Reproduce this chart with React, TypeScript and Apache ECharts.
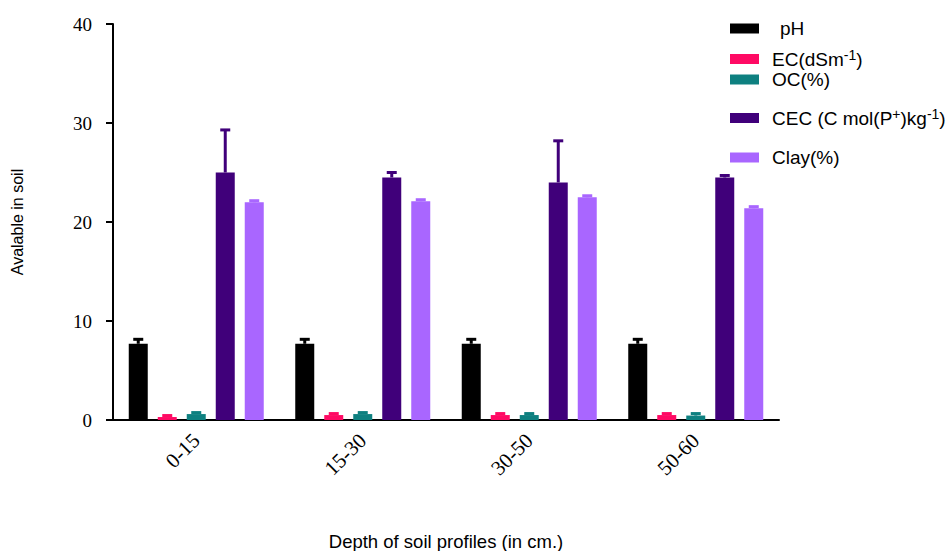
import React, { useEffect, useRef } from "react";
import * as echarts from "echarts";

const categories = ["0-15", "15-30", "30-50", "50-60"];
const seriesNames = ["pH", "EC", "OC", "CEC", "Clay"];
const phValues = [7.7, 7.7, 7.7, 7.7];
const phErr = [0.45, 0.45, 0.45, 0.45];
const ecValues = [0.3, 0.5, 0.5, 0.5];
const ecErr = [0.15, 0.15, 0.15, 0.15];
const ocValues = [0.6, 0.6, 0.5, 0.45];
const ocErr = [0.15, 0.15, 0.15, 0.2];
const cecValues = [25.0, 24.5, 24.0, 24.5];
const cecErr = [4.3, 0.5, 4.2, 0.2];
const clayValues = [22.0, 22.1, 22.5, 21.4];
const clayErr = [0.15, 0.15, 0.15, 0.15];
const yTicks = [0, 10, 20, 30, 40];

const colors = ["#000000", "#FF0A64", "#0E8080", "#40007A", "#A966FF"];
const SANS = "'Liberation Sans', Arial, sans-serif";
const SERIF = "'Liberation Serif', 'Times New Roman', serif";

export default function App() {
  const ref = useRef<HTMLDivElement>(null);
  useEffect(() => {
    if (!ref.current) return;
    const chart = echarts.init(ref.current, null, { renderer: "svg" });
    const values = [phValues, ecValues, ocValues, cecValues, clayValues];
    const errs = [phErr, ecErr, ocErr, cecErr, clayErr];
    const barWidth = 19;
    const gap = 10;
    const legendLabels: Record<string, string> = {
      pH: "{n|pH}",
      EC: "{n|EC(dSm}{s|-1}{n|)}",
      OC: "{n|OC(%)}",
      CEC: "{n|CEC (C mol(P}{s|+}{n|)kg}{s|-1}{n|)}",
      Clay: "{n|Clay(%)}",
    };
    const legendTops = [19, 48, 70, 107, 148];
    const legendPads = [16, 8, 8, 8, 8];

    const bars = seriesNames.map((name, i) => ({
      name,
      type: "bar",
      data: values[i],
      barWidth,
      barGap: (gap / barWidth) * 100 + "%",
      itemStyle: { color: colors[i] },
      z: 2,
    }));
    const errSeries = seriesNames.map((name, i) => ({
      name: name + "-err",
      type: "custom",
      z: 3,
      data: categories.map((_, k) => [k, values[i][k], errs[i][k]]),
      encode: { x: 0, y: 1 },
      renderItem: (params: any, api: any) => {
        const x = api.value(0);
        const v = api.value(1);
        const e = api.value(2);
        const base = api.coord([x, v]);
        const top = api.coord([x, v + e]);
        const cx = base[0] + (i - 2) * (barWidth + gap);
        return {
          type: "group",
          children: [
            {
              type: "line",
              shape: { x1: cx, y1: base[1], x2: cx, y2: top[1] },
              style: { stroke: colors[i], lineWidth: 3 },
            },
            {
              type: "line",
              shape: { x1: cx - 5, y1: top[1], x2: cx + 5, y2: top[1] },
              style: { stroke: colors[i], lineWidth: 3 },
            },
          ],
        };
      },
    }));

    chart.setOption({
      animation: false,
      backgroundColor: "#ffffff",
      grid: { left: 113, top: 24, width: 666, height: 396, outerBoundsMode: "none", containLabel: false },
      legend: seriesNames.map((name, i) => ({
        data: [name],
        left: 730,
        top: legendTops[i],
        padding: 0,
        itemWidth: 29,
        itemHeight: 10,
        icon: "rect",
        selectedMode: false,
        formatter: (n: string) => legendLabels[n],
        textStyle: {
          color: "#000",
          fontFamily: SANS,
          fontSize: 19,
          padding: [0, 0, 0, legendPads[i]],
          rich: {
            n: { fontFamily: SANS, fontSize: 19, color: "#000", lineHeight: 22 },
            s: { fontFamily: SANS, fontSize: 14, color: "#000", verticalAlign: "top", lineHeight: 22 },
          },
        },
      })),
      xAxis: {
        type: "category",
        data: categories,
        name: "Depth of soil profiles (in cm.)",
        nameLocation: "middle",
        nameGap: 112,
        nameTextStyle: { fontFamily: SANS, fontSize: 18.5, color: "#000" },
        axisLine: { lineStyle: { color: "#000", width: 2 } },
        axisTick: { alignWithLabel: true, length: 7, lineStyle: { color: "#000", width: 2 } },
        axisLabel: { rotate: 45, fontFamily: SERIF, fontSize: 21, color: "#000", margin: 17 },
      },
      yAxis: {
        type: "value",
        min: 0,
        max: 40,
        interval: 10,
        name: "Avalable in soil",
        nameLocation: "middle",
        nameGap: 88,
        nameTextStyle: { fontFamily: SANS, fontSize: 16, color: "#000" },
        splitLine: { show: false },
        axisLine: { show: true, lineStyle: { color: "#000", width: 2 } },
        axisTick: { show: true, length: 7, lineStyle: { color: "#000", width: 2 } },
        axisLabel: {
          fontFamily: SERIF,
          fontSize: 19,
          color: "#000",
          margin: 21,
          formatter: (v: number) => (yTicks.includes(v) ? String(v) : ""),
        },
      },
      series: [...bars, ...errSeries],
    });
    return () => chart.dispose();
  }, []);
  return (
    <div
      ref={ref}
      style={{ position: "fixed", left: 0, top: 0, width: 951, height: 551, background: "#fff" }}
    />
  );
}
